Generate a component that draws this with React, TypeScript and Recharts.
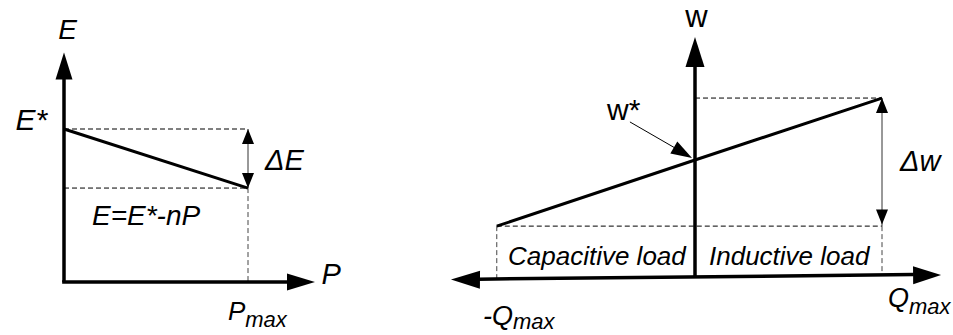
import React from "react";
import {
  LineChart,
  Line,
  XAxis,
  YAxis,
  ReferenceLine,
  ReferenceDot,
} from "recharts";

// left panel: E = E* - nP
const P_POINTS = [0, 1];
const E_VALUES = [1, 0.614];
const P_MAX = 1;
const E_STAR = 1;
const E_MIN = 0.614;

// right panel: w droop against Q
const Q_POINTS = [-1.06, 0, 1];
const W_VALUES = [0.43, 1, 1.534];

const leftData = P_POINTS.map((p, i) => ({ p, e: E_VALUES[i] }));
const rightData = Q_POINTS.map((q, i) => ({ q, w: W_VALUES[i] }));

const FONT = "'Liberation Sans', Arial, sans-serif";
const DASH = "5 3";

// filled triangle, tip at (cx, cy), pointing along angle (deg, 0 = right)
function Arrowhead({ cx, cy, angle, len, half, fill = "#000" }: any) {
  if (cx == null || cy == null) return null;
  return (
    <polygon
      points={`0,0 ${-len},${-half} ${-len},${half}`}
      transform={`translate(${cx},${cy}) rotate(${angle})`}
      fill={fill}
    />
  );
}

function head(angle: number, len: number, half: number, fill = "#000") {
  return (props: any) => (
    <Arrowhead cx={props.cx} cy={props.cy} angle={angle} len={len} half={half} fill={fill} />
  );
}

function label(
  main: string,
  opts: { size: number; italic?: boolean; anchor?: string; sub?: string; subSize?: number; subDy?: number }
) {
  return (props: any) => (
    <text
      x={props.cx}
      y={props.cy}
      fontFamily={FONT}
      fontSize={opts.size}
      fontStyle={opts.italic === false ? "normal" : "italic"}
      textAnchor={opts.anchor ?? "start"}
      fill="#000"
    >
      <tspan>{main}</tspan>
      {opts.sub && (
        <tspan fontSize={opts.subSize ?? opts.size - 4} dy={opts.subDy ?? 7}>
          {opts.sub}
        </tspan>
      )}
    </text>
  );
}

function LeftPanel() {
  return (
    <LineChart
      width={380}
      height={335}
      data={leftData}
      margin={{ top: 6.6, right: 40, bottom: 7.1, left: 27.2 }}
    >
      <XAxis dataKey="p" type="number" domain={[-0.2, 1.5]} hide allowDataOverflow />
      <YAxis type="number" domain={[-0.3, 1.8]} hide allowDataOverflow />

      {/* guides */}
      <ReferenceLine segment={[{ x: 0, y: E_STAR }, { x: P_MAX, y: E_STAR }]} stroke="#000" strokeDasharray={DASH} strokeWidth={1} ifOverflow="visible" />
      <ReferenceLine segment={[{ x: 0, y: E_MIN }, { x: P_MAX, y: E_MIN }]} stroke="#000" strokeDasharray={DASH} strokeWidth={1} ifOverflow="visible" />
      <ReferenceLine segment={[{ x: P_MAX, y: E_MIN }, { x: P_MAX, y: 0 }]} stroke="#444" strokeDasharray={DASH} strokeWidth={1} ifOverflow="visible" />

      {/* delta E */}
      <ReferenceLine segment={[{ x: P_MAX, y: E_STAR }, { x: P_MAX, y: E_MIN }]} stroke="#333" strokeWidth={1} ifOverflow="visible" />
      <ReferenceDot x={P_MAX} y={E_STAR} ifOverflow="visible" shape={head(-90, 15, 6)} />
      <ReferenceDot x={P_MAX} y={E_MIN} ifOverflow="visible" shape={head(90, 15, 6)} />

      {/* axes */}
      <ReferenceLine segment={[{ x: 0, y: 0 }, { x: 0, y: 1.34 }]} stroke="#000" strokeWidth={3.5} ifOverflow="visible" />
      <ReferenceLine segment={[{ x: -0.01, y: 0 }, { x: 1.23, y: 0 }]} stroke="#000" strokeWidth={3.5} ifOverflow="visible" />
      <ReferenceDot x={0} y={1.5} ifOverflow="visible" shape={head(-90, 27, 8.5)} />
      <ReferenceDot x={1.364} y={0} ifOverflow="visible" shape={head(0, 28, 8.5)} />

      <Line dataKey="e" stroke="#000" strokeWidth={3} dot={false} isAnimationActive={false} />

      {/* text */}
      <ReferenceDot x={0.019} y={1.588} ifOverflow="visible" shape={label("E", { size: 28, anchor: "middle" })} />
      <ReferenceDot x={-0.092} y={0.993} ifOverflow="visible" shape={label("E*", { size: 30, anchor: "end" })} />
      <ReferenceDot x={1.092} y={0.732} ifOverflow="visible" shape={label("ΔE", { size: 29 })} />
      <ReferenceDot x={0.152} y={0.373} ifOverflow="visible" shape={label("E=E*-nP", { size: 28 })} />
      <ReferenceDot x={1.40} y={-0.013} ifOverflow="visible" shape={label("P", { size: 29 })} />
      <ReferenceDot x={0.891} y={-0.248} ifOverflow="visible" shape={label("P", { size: 26, sub: "max", subSize: 22 })} />
    </LineChart>
  );
}

function RightPanel() {
  const qMin = Q_POINTS[0];
  const qMax = Q_POINTS[2];
  const wMin = W_VALUES[0];
  const wMax = W_VALUES[2];
  return (
    <LineChart
      width={533}
      height={335}
      data={rightData}
      margin={{ top: 9.2, right: 5.55, bottom: 1, left: 22.55 }}
    >
      <XAxis dataKey="q" type="number" domain={[-1.35, 1.35]} hide allowDataOverflow />
      <YAxis type="number" domain={[-0.5, 2.3]} hide allowDataOverflow />

      {/* guides */}
      <ReferenceLine segment={[{ x: 0, y: wMax }, { x: qMax, y: wMax }]} stroke="#000" strokeDasharray={DASH} strokeWidth={1} ifOverflow="visible" />
      <ReferenceLine segment={[{ x: qMin, y: wMin }, { x: qMax, y: wMin }]} stroke="#000" strokeDasharray={DASH} strokeWidth={1} ifOverflow="visible" />
      <ReferenceLine segment={[{ x: qMin, y: wMin }, { x: qMin, y: -0.025 }]} stroke="#444" strokeDasharray={DASH} strokeWidth={1} ifOverflow="visible" />
      <ReferenceLine segment={[{ x: qMax, y: wMin }, { x: qMax, y: 0.005 }]} stroke="#444" strokeDasharray={DASH} strokeWidth={1} ifOverflow="visible" />

      {/* delta w */}
      <ReferenceLine segment={[{ x: qMax, y: wMax }, { x: qMax, y: wMin }]} stroke="#333" strokeWidth={1} ifOverflow="visible" />
      <ReferenceDot x={qMax} y={wMax} ifOverflow="visible" shape={head(-90, 15, 6)} />
      <ReferenceDot x={qMax} y={wMin + 0.015} ifOverflow="visible" shape={head(90, 15, 6)} />

      {/* axes */}
      <ReferenceLine segment={[{ x: 0, y: 0 }, { x: 0, y: 1.82 }]} stroke="#000" strokeWidth={3.5} ifOverflow="visible" />
      <ReferenceLine segment={[{ x: -1.16, y: -0.027 }, { x: 1.17, y: 0.012 }]} stroke="#000" strokeWidth={3.5} ifOverflow="visible" />
      <ReferenceDot x={0} y={2.06} ifOverflow="visible" shape={head(-90, 30, 9.5)} />
      <ReferenceDot x={-1.305} y={-0.03} ifOverflow="visible" shape={head(180.5, 29, 9)} />
      <ReferenceDot x={1.316} y={0.009} ifOverflow="visible" shape={head(-0.5, 28, 9)} />

      {/* w* pointer */}
      <ReferenceLine segment={[{ x: -0.348, y: 1.328 }, { x: -0.06, y: 1.06 }]} stroke="#000" strokeWidth={1} ifOverflow="visible" />
      <ReferenceDot x={-0.016} y={1.017} ifOverflow="visible" shape={head(30, 21, 7)} />

      <Line dataKey="w" stroke="#000" strokeWidth={3} dot={false} isAnimationActive={false} />

      {/* text */}
      <ReferenceDot x={0.008} y={2.147} ifOverflow="visible" shape={label("w", { size: 31, italic: false, anchor: "middle" })} />
      <ReferenceDot x={-0.47} y={1.345} ifOverflow="visible" shape={label("w*", { size: 30, italic: false })} />
      <ReferenceDot x={1.096} y={0.905} ifOverflow="visible" shape={label("Δw", { size: 29 })} />
      <ReferenceDot x={-1.0} y={0.095} ifOverflow="visible" shape={label("Capacitive load", { size: 26 })} />
      <ReferenceDot x={0.075} y={0.095} ifOverflow="visible" shape={label("Inductive load", { size: 26 })} />
      <ReferenceDot x={1.032} y={-0.267} ifOverflow="visible" shape={label("Q", { size: 27, sub: "max", subSize: 22 })} />
      <ReferenceDot x={-1.134} y={-0.42} ifOverflow="visible" shape={label("-Q", { size: 27, sub: "max", subSize: 22, subDy: 4 })} />
    </LineChart>
  );
}

export default function App() {
  return (
    <div
      style={{
        position: "absolute",
        left: 0,
        top: 0,
        width: 953,
        height: 335,
        background: "#fff",
        overflow: "hidden",
      }}
    >
      <div style={{ position: "absolute", left: 0, top: 0 }}>
        <LeftPanel />
      </div>
      <div style={{ position: "absolute", left: 420, top: 0 }}>
        <RightPanel />
      </div>
    </div>
  );
}
